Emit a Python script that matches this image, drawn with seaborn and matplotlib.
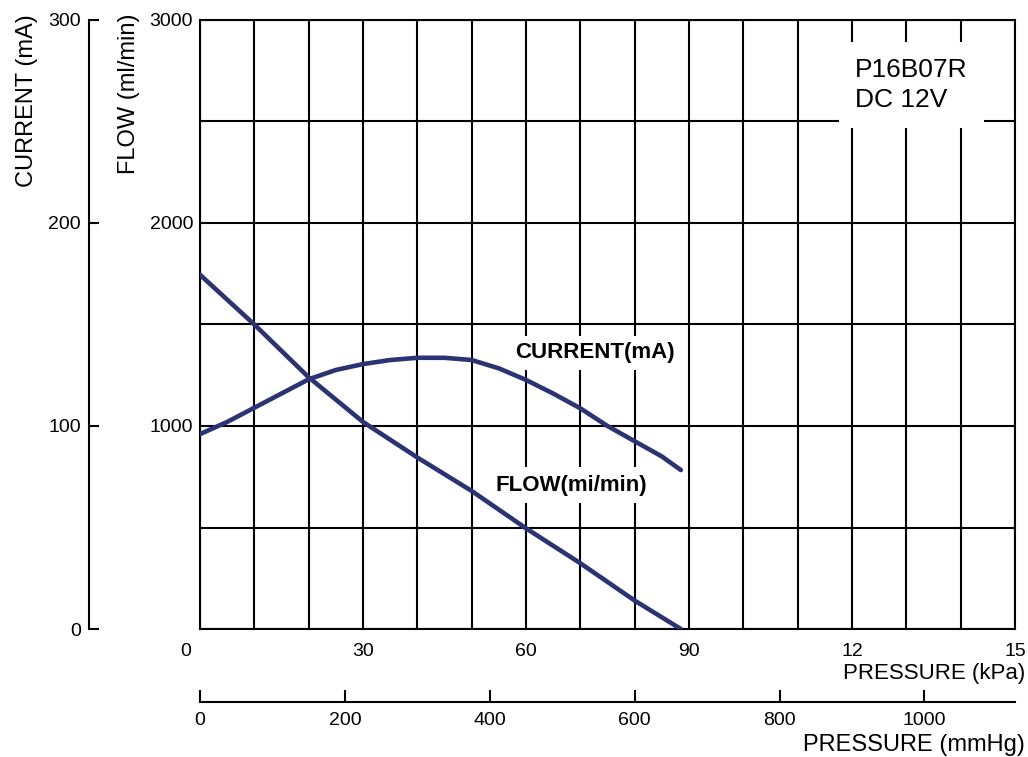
import matplotlib
matplotlib.use("Agg")
import matplotlib.pyplot as plt
import matplotlib.transforms as mtransforms
import seaborn as sns

# ---------------------------------
# Values (pressure in kPa)
# ---------------------------------
current_kpa = [0, 0.5, 1, 1.5, 2, 2.5, 3, 3.5, 4, 4.5, 5, 5.5, 6, 6.5, 7, 7.5, 8, 8.5, 8.85]
current_ma = [96, 102, 109, 116, 123, 127.6, 130.5, 132.5, 133.6, 133.6, 132.5,
              128.4, 122.7, 116, 108.7, 100, 92.5, 85, 78.3]

flow_kpa = [0, 1, 2, 3, 4, 5, 6, 7, 8, 8.85]
flow_ml = [1745, 1500, 1240, 1020, 845, 680, 496, 324, 140, 0]

kpa_ticks = [0, 3, 6, 9, 12, 15]
kpa_labels = ["0", "30", "60", "90", "12", "15"]
mmhg_ticks = [0, 200, 400, 600, 800, 1000]
flow_ticks = [1000, 2000, 3000]
current_ticks = [0, 100, 200, 300]
mmhg_per_kpa = 75

navy = "#2c3373"

sns.set_style("white")
plt.rcParams["font.family"] = ["Liberation Sans", "DejaVu Sans"]
plt.rcParams["text.color"] = "black"
plt.rcParams["xtick.color"] = "black"
plt.rcParams["ytick.color"] = "black"
plt.rcParams["axes.labelcolor"] = "black"

W, H = 1028, 757
fig = plt.figure(figsize=(W / 100, H / 100), dpi=100)
ax = fig.add_axes([200 / W, 1 - 629 / H, 815 / W, 609 / H])

# ---------------------------------
# Flow (main axis) + grid
# ---------------------------------
sns.lineplot(x=flow_kpa, y=flow_ml, ax=ax, color=navy, linewidth=3.3, zorder=3)
ax.set_xlim(0, 15)
ax.set_ylim(0, 3000)

ax.set_xticks(range(16))
ax.set_xticklabels([kpa_labels[kpa_ticks.index(i)] if i in kpa_ticks else "" for i in range(16)])
ax.set_yticks(range(0, 3001, 500))
ax.set_yticklabels([str(v) if v in flow_ticks else "" for v in range(0, 3001, 500)])
ax.grid(True, color="black", linewidth=1.5)
ax.tick_params(axis="both", length=0, labelsize=14)
ax.tick_params(axis="x", pad=10)
ax.tick_params(axis="y", pad=5)
for s in ax.spines.values():
    s.set_visible(True)
    s.set_color("black")
    s.set_linewidth(1.5)

# shift the "0" label left as in the original
lab0 = ax.get_xticklabels()[0]
lab0.set_transform(lab0.get_transform() + mtransforms.ScaledTranslation(-14 / 100, 0, fig.dpi_scale_trans))

# flow label sits under the curve, above the grid
ax.text(6.83, 709, "FLOW(mi/min)", ha="center", va="center", fontsize=16, fontweight="bold",
        bbox=dict(facecolor="white", edgecolor="none", boxstyle="square,pad=0.35"), zorder=2.5)

# ---------------------------------
# Current (separate left scale)
# ---------------------------------
ax2 = ax.twinx()
sns.lineplot(x=current_kpa, y=current_ma, ax=ax2, color=navy, linewidth=3.3)
ax2.set_ylim(0, 300)
ax2.set_yticks(current_ticks)
ax2.yaxis.set_ticks_position("left")
ax2.yaxis.set_label_position("left")
ax2.spines["left"].set_position(("axes", -0.136))
for side in ["right", "top", "bottom"]:
    ax2.spines[side].set_visible(False)
ax2.spines["left"].set_linewidth(1.5)
ax2.spines["left"].set_color("black")
ax2.tick_params(axis="y", direction="in", length=7, width=1.5, pad=6, labelsize=14)
ax2.set_ylabel("")

# ---------------------------------
# mmHg scale under the kPa scale
# ---------------------------------
sec = ax.secondary_xaxis(-0.12, functions=(lambda x: x * mmhg_per_kpa, lambda x: x / mmhg_per_kpa))
sec.set_xticks(mmhg_ticks)
sec.tick_params(direction="in", length=9, width=1.5, pad=7, labelsize=14)
sec.spines["bottom"].set_linewidth(1.5)
sec.spines["bottom"].set_color("black")

# ---------------------------------
# Labels / annotations
# ---------------------------------
fig.text(27 / W, 1 - 14 / H, "CURRENT (mA)", rotation=90, ha="center", va="top", fontsize=17)
fig.text(129 / W, 1 - 14 / H, "FLOW (ml/min)", rotation=90, ha="center", va="top", fontsize=17)
fig.text(1025 / W, 1 - 673 / H, "PRESSURE (kPa)", ha="right", va="center", fontsize=16)
fig.text(1025 / W, 1 - 745 / H, "PRESSURE (mmHg)", ha="right", va="center", fontsize=17)

ax2.text(7.27, 136, "CURRENT(mA)", ha="center", va="center", fontsize=16, fontweight="bold",
         bbox=dict(facecolor="white", edgecolor="none", boxstyle="square,pad=0.3"), zorder=5)
ax2.text(12.06, 268, "P16B07R\nDC 12V", ha="left", va="center", fontsize=19, linespacing=1.3,
         bbox=dict(facecolor="white", edgecolor="none", boxstyle="square,pad=0.6"), zorder=5)

fig.savefig("out.png", dpi=100)
